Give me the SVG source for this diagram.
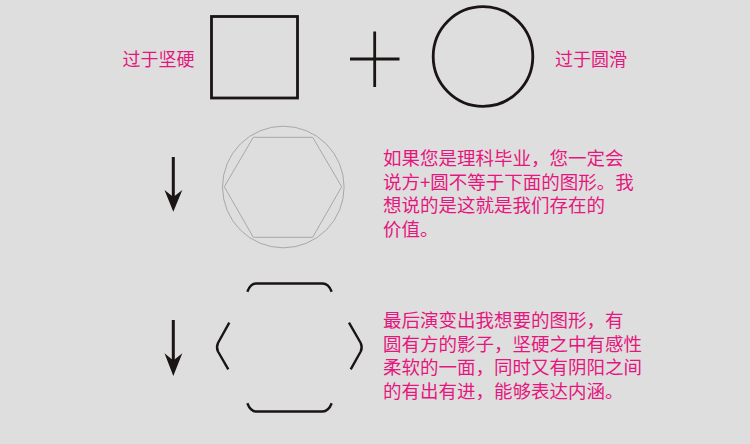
<svg xmlns="http://www.w3.org/2000/svg" width="750" height="444" viewBox="0 0 750 444">
<defs>
<style>
.lbl{font-family:"Noto Sans CJK SC","Noto Sans",sans-serif;font-size:18px;fill:#e5177e}
.para{font-family:"Noto Sans CJK SC","Noto Sans",sans-serif;font-size:18.5px;fill:#e5177e}
.bold{fill:none;stroke:#1a1414;stroke-width:2.8}
.thin{fill:none;stroke:#a8a8a8;stroke-width:1}
.brk{fill:none;stroke:#1a1414;stroke-width:2.4;stroke-linecap:butt;stroke-linejoin:round}
.arr{fill:#1a1414}
</style>
</defs>
<rect width="750" height="444" fill="#dedede"/>
<g id="label-hard"><text class="lbl" x="122.5" y="66">过于坚硬</text></g>
<g id="square"><rect class="bold" x="211.5" y="16.5" width="86" height="81.5"/></g>
<g id="plus"><path class="bold" d="M350 59H399.5M374.7 31.5V87" stroke-width="3"/></g>
<g id="circle"><circle class="bold" cx="483" cy="56.5" r="49.8"/></g>
<g id="label-smooth"><text class="lbl" x="555" y="66">过于圆滑</text></g>
<g id="circle-hexagon">
<circle class="thin" cx="283.3" cy="187" r="60.8"/>
<polygon class="thin" points="224.3,186.7 253.3,137.3 312.7,137.3 341.7,186.7 312.7,237.3 253.3,237.3"/>
</g>
<g id="text1">
<text class="para" x="383" y="165">如果您是理科毕业，您一定会</text>
<text class="para" x="383" y="188.7">说方+圆不等于下面的图形。我</text>
<text class="para" x="383" y="212.4">想说的是这就是我们存在的</text>
<text class="para" x="383" y="236">价值。</text>
</g>
<g id="broken-hexagon">
<path class="brk" d="M247.3 291.7Q250.5 283.5 256 283.5H322.5Q328.5 283.5 331.7 291.7"/>
<path class="brk" d="M247.3 403.3Q250.5 411.5 256 411.5H322.5Q328.5 411.5 331.7 403.3"/>
<path class="brk" d="M229.3 322.7L218 343Q216 347.3 218 351.5L228.3 369.3"/>
<path class="brk" d="M349 322.7L360.7 343Q362.7 347.3 360.7 351.5L350.7 369.3"/>
</g>
<g id="text2">
<text class="para" x="383" y="327">最后演变出我想要的图形，有</text>
<text class="para" x="383" y="350.5">圆有方的影子，坚硬之中有感性</text>
<text class="para" x="383" y="374">柔软的一面，同时又有阴阳之间</text>
<text class="para" x="383" y="397.5">的有出有进，能够表达内涵。</text>
</g>
<g id="connectors">
<path d="M173.3 157V198M173.3 320V362" stroke="#1a1414" stroke-width="3" fill="none"/>
<polygon class="arr" points="173.3,211.7 182.3,190 173.3,197 164.5,190"/>
<polygon class="arr" points="173.3,376 182.3,353.3 173.3,360.5 164.5,353.3"/>
</g>
</svg>
